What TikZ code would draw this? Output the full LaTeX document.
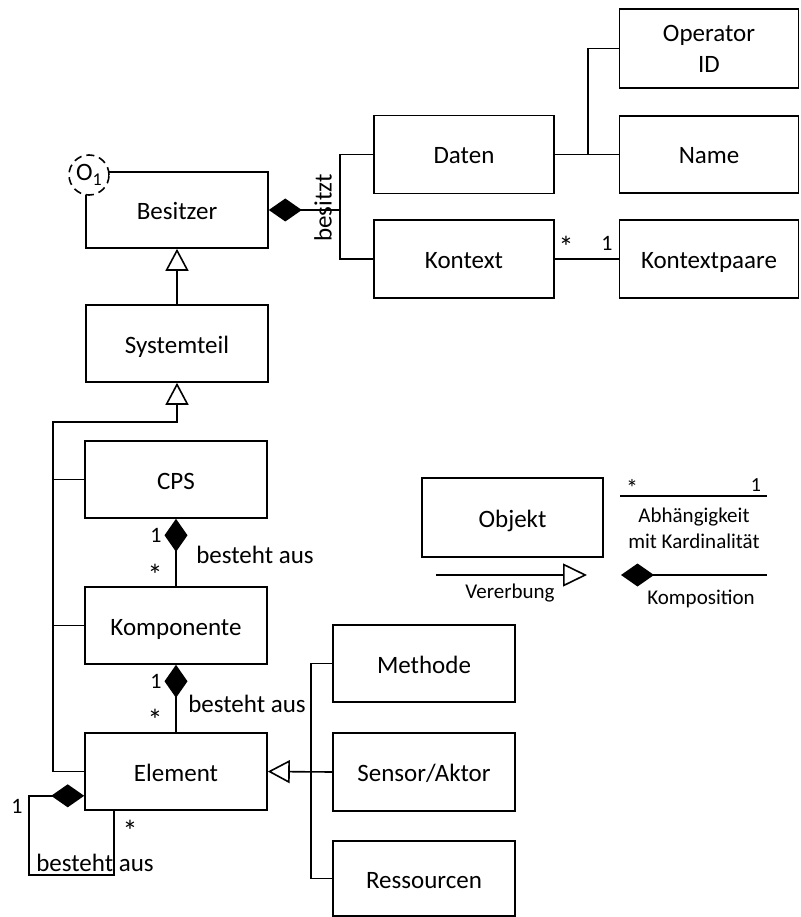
\documentclass[tikz,border=0pt]{standalone}
\usepackage{fontspec}
\setmainfont{Carlito}
\usetikzlibrary{arrows.meta,calc}

\tikzset{
  cls/.style={draw, line width=1.6pt, fill=white, minimum width=182pt, minimum height=77pt,
              inner sep=0pt, text height=20pt, text depth=1pt, font=\fontsize{25}{31}\selectfont},
  conn/.style={line width=1.6pt},
  inh/.style={conn, -{Triangle[open, fill=white, length=22pt, width=23pt, line width=1.6pt]}},
  compend/.style={conn, -{Diamond[fill=black, length=33pt, width=23pt, line width=0pt]}},
  compstart/.style={conn, {Diamond[fill=black, length=33pt, width=23pt, line width=0pt]}-},
  mult/.style={inner sep=0pt, font=\fontsize{22}{24}\selectfont},
  star/.style={inner sep=0pt, font=\fontsize{30}{30}\selectfont},
  lbl/.style={inner sep=0pt, font=\fontsize{25}{30}\selectfont},
  legendtxt/.style={inner sep=0pt, font=\fontsize{21}{26}\selectfont, align=center},
}

\begin{document}
\begin{tikzpicture}[x=1pt, y=-1pt]
  \useasboundingbox (0,0) rectangle (800,917);

  % classes
  \node[cls, minimum width=182pt, minimum height=76pt] (Besitzer) at (177,210) {Besitzer};
  \node[cls] (Systemteil) at (177,343.5) {Systemteil};
  \node[cls] (CPS) at (176,479.5) {CPS};
  \node[cls] (Komponente) at (176,625.5) {Komponente};
  \node[cls] (Element) at (176,771.5) {Element};
  \node[cls, minimum width=180pt, minimum height=78pt] (Daten) at (464,154.5) {Daten};
  \node[cls, minimum width=180pt, minimum height=78pt] (Kontext) at (464,259) {Kontext};
  \node[cls, minimum width=179pt, minimum height=79pt, align=center, text height=, text depth=]
       (OperatorID) at (709,48.5) {Operator\\ID};
  \node[cls, minimum width=179pt] (Name) at (709,154.5) {Name};
  \node[cls, minimum width=179pt, minimum height=78pt] (Kontextpaare) at (709,259) {Kontextpaare};
  \node[cls] (Methode) at (424,663.5) {Methode};
  \node[cls, minimum height=78pt] (SensorAktor) at (424,772) {Sensor/Aktor};
  \node[cls, minimum height=75pt] (Ressourcen) at (424,878.5) {Ressourcen};

  % owner marker
  \node[draw, circle, dashed, dash pattern=on 8pt off 5pt, line width=1.6pt, fill=white,
        minimum size=40pt, inner sep=0pt, font=\fontsize{25}{30}\selectfont] (ownermark) at (89,175)
        {O\raisebox{-0.45ex}{\fontsize{18}{18}\selectfont 1}};

  % Besitzer owns Daten and Kontext
  \coordinate (ownfork) at (340,210);
  \draw[compstart] (Besitzer.east) -- (ownfork);
  \draw[conn] (Daten.west) -| (ownfork) |- (Kontext.west);
  \node[lbl, rotate=90] (besitzt) at (323,208) {besitzt};

  % Daten attributes
  \coordinate (datfork) at (588,154.5);
  \draw[conn] (Daten.east) -- (Name.west);
  \draw[conn] (datfork) |- (OperatorID.west);

  % Kontext - Kontextpaare
  \draw[conn] (Kontext.east) -- (Kontextpaare.west);
  \node[star] (kmany) at (566,247) {*};
  \node[mult] (kone) at (607,243) {1};

  % inheritance Systemteil -> Besitzer
  \draw[inh] (Systemteil.north) -- (Besitzer.south);

  % inheritance CPS / Komponente / Element -> Systemteil
  \coordinate (spine) at (53,422);
  \coordinate (sysfork) at (177,422);
  \draw[inh] (Element.west) -| (spine) -- (sysfork) -- (Systemteil.south);
  \draw[conn] (CPS.west) -- (CPS.west -| spine);
  \draw[conn] (Komponente.west) -- (Komponente.west -| spine);

  % CPS consists of Komponente
  \draw[compstart] (CPS.south) -- (Komponente.north);
  \node[mult] (c1) at (156,535) {1};
  \node[star] (cn) at (155,575) {*};
  \node[lbl] (cbest) at (255,555) {besteht aus};

  % Komponente consists of Element
  \draw[compstart] (Komponente.south) -- (Element.north);
  \node[mult] (k1) at (156,681) {1};
  \node[star] (kn) at (155,720) {*};
  \node[lbl] (kbest) at (247,704) {besteht aus};

  % Element consists of Element
  \coordinate (elA) at ($(Element.south west)+(0,-15)$);
  \coordinate (elB) at ($(Element.south west)+(30,0)$);
  \coordinate (loopcorner) at (29,875);
  \draw[compend] (elB) |- (loopcorner) |- (elA);
  \node[mult] (e1) at (17,806) {1};
  \node[star] (en) at (130,831) {*};
  \node[lbl] (ebest) at (95,863) {besteht aus};

  % Methode / Sensor/Aktor / Ressourcen -> Element
  \coordinate (elfork) at (311,772);
  \draw[inh] (SensorAktor.west) -- (Element.east);
  \draw[conn] (Methode.west) -| (elfork) |- (Ressourcen.west);

  % legend
  \node[cls, minimum width=181pt, minimum height=79pt] (Objekt) at (512.5,517.5) {Objekt};

  \coordinate (vA) at (436,575);
  \coordinate (vB) at (587,575);
  \draw[conn, -{Triangle[open, fill=white, length=24pt, width=23pt, line width=1.6pt]}] (vA) -- (vB);
  \node[legendtxt] (vtxt) at (510,593) {Vererbung};

  \coordinate (dA) at (620,496);
  \coordinate (dB) at (767,496);
  \draw[conn] (dA) -- (dB);
  \node[star, font=\fontsize{24}{24}\selectfont] (dn) at (632,488) {*};
  \node[mult, font=\fontsize{20}{22}\selectfont] (d1) at (756,485) {1};
  \node[legendtxt] (dtxt) at (694,528) {Abhängigkeit\\mit Kardinalität};

  \coordinate (kA) at (621,575);
  \coordinate (kB) at (767,575);
  \draw[compstart] (kA) -- (kB);
  \node[legendtxt] (ktxt) at (701,599) {Komposition};
\end{tikzpicture}
\end{document}
